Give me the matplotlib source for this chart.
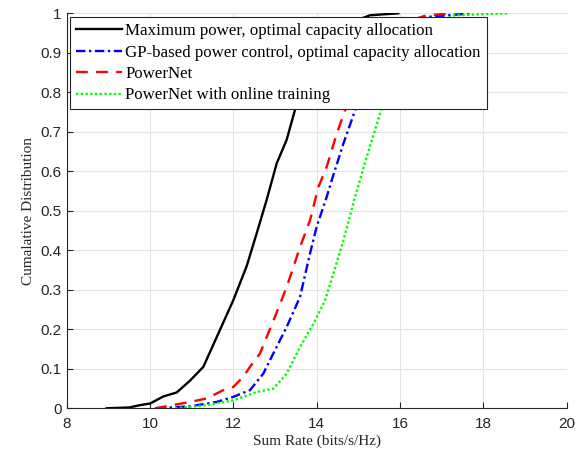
import numpy as np
import matplotlib
matplotlib.use('Agg')
import matplotlib.pyplot as plt

# CDF curves (x = sum rate, y = cumulative fraction)
maxpow_x = [8.96, 9.5, 9.76, 10.0, 10.32, 10.64, 10.96, 11.28, 11.6, 12.0, 12.32, 12.56,
            12.8, 13.04, 13.28, 13.48, 13.6, 14.1, 14.5, 14.9, 15.28, 15.96]
maxpow_y = [0.0, 0.002, 0.008, 0.012, 0.03, 0.04, 0.07, 0.105, 0.18, 0.274, 0.36, 0.443,
            0.528, 0.62, 0.68, 0.756, 0.8, 0.9, 0.95, 0.98, 0.995, 1.0]

gp_x = [10.16, 10.96, 11.6, 12.0, 12.4, 12.72, 12.96, 13.28, 13.6, 13.84, 14.0, 14.24,
        14.36, 14.64, 14.92, 15.1, 15.5, 15.9, 16.3, 16.56, 17.75]
gp_y = [0.0, 0.005, 0.016, 0.029, 0.046, 0.088, 0.139, 0.206, 0.282, 0.392, 0.46, 0.535,
        0.577, 0.67, 0.754, 0.8, 0.9, 0.95, 0.98, 0.99, 1.0]

pnet_x = [10.12, 10.96, 11.36, 11.76, 12.0, 12.24, 12.4, 12.64, 13.0, 13.28, 13.6, 13.84,
          14.04, 14.24, 14.48, 14.68, 14.85, 15.3, 15.7, 16.2, 16.64, 17.3]
pnet_y = [0.0, 0.016, 0.025, 0.046, 0.054, 0.08, 0.105, 0.139, 0.232, 0.307, 0.408, 0.476,
          0.56, 0.611, 0.695, 0.754, 0.8, 0.9, 0.95, 0.98, 0.995, 1.0]

online_x = [10.6, 11.36, 12.0, 12.56, 12.96, 13.28, 13.6, 13.92, 14.2, 14.4, 14.64, 14.92,
            15.2, 15.52, 15.7, 16.2, 16.6, 17.0, 17.3, 18.6]
online_y = [0.0, 0.008, 0.02, 0.041, 0.05, 0.088, 0.155, 0.214, 0.273, 0.341, 0.425, 0.535,
            0.636, 0.746, 0.8, 0.9, 0.95, 0.98, 0.995, 1.0]

labels = ['Maximum power, optimal capacity allocation',
          'GP-based power control, optimal capacity allocation',
          'PowerNet',
          'PowerNet with online training']

serif = 'Liberation Serif'
sans = 'Liberation Sans'

fig = plt.figure(figsize=(5.82, 4.57), dpi=100)
ax = fig.add_axes([0.1146, 0.1066, 0.8591, 0.8643])

ax.plot(maxpow_x, maxpow_y, color='black', lw=1.7, label=labels[0])
ax.plot(gp_x, gp_y, color='blue', lw=1.7, ls=(0, (4, 1.5, 1, 1.5)), label=labels[1])
ax.plot(pnet_x, pnet_y, color='red', lw=1.7, ls=(0, (5, 3.5)), label=labels[2])
ax.plot(online_x, online_y, color='#00ff00', lw=1.7, ls=(0, (1, 1)), label=labels[3])

ax.set_xlim(8, 20)
ax.set_ylim(0, 1)
ax.set_xticks(np.arange(8, 21, 2))
ax.set_yticks(np.arange(0, 1.01, 0.1))
ax.set_yticklabels(['0', '0.1', '0.2', '0.3', '0.4', '0.5', '0.6', '0.7', '0.8', '0.9', '1'])
ax.grid(True, color='#e3e3e3', lw=0.8)
ax.set_axisbelow(True)
for s in ['top', 'right']:
    ax.spines[s].set_visible(False)
for s in ['left', 'bottom']:
    ax.spines[s].set_color('#262626')
    ax.spines[s].set_linewidth(0.8)
ax.tick_params(direction='in', length=4, width=0.8, color='#262626',
               labelsize=11, labelcolor='#262626')
ax.tick_params(axis='x', pad=6)
for t in ax.get_xticklabels() + ax.get_yticklabels():
    t.set_fontfamily(sans)

ax.set_xlabel('Sum Rate (bits/s/Hz)', fontfamily=serif, fontsize=11, color='#262626',
              labelpad=3)
ax.set_ylabel('Cumalative Distribution', fontfamily=serif, fontsize=11, color='#262626')

leg = ax.legend(loc='upper left', bbox_to_anchor=(0.007, 0.99), borderaxespad=0,
                prop={'family': serif, 'size': 12.2}, fancybox=False, framealpha=1,
                edgecolor='#262626', handlelength=2.7, handletextpad=0.2,
                labelspacing=0.32, borderpad=0.35)
leg.get_frame().set_linewidth(0.8)

plt.savefig('out.png', dpi=100)
